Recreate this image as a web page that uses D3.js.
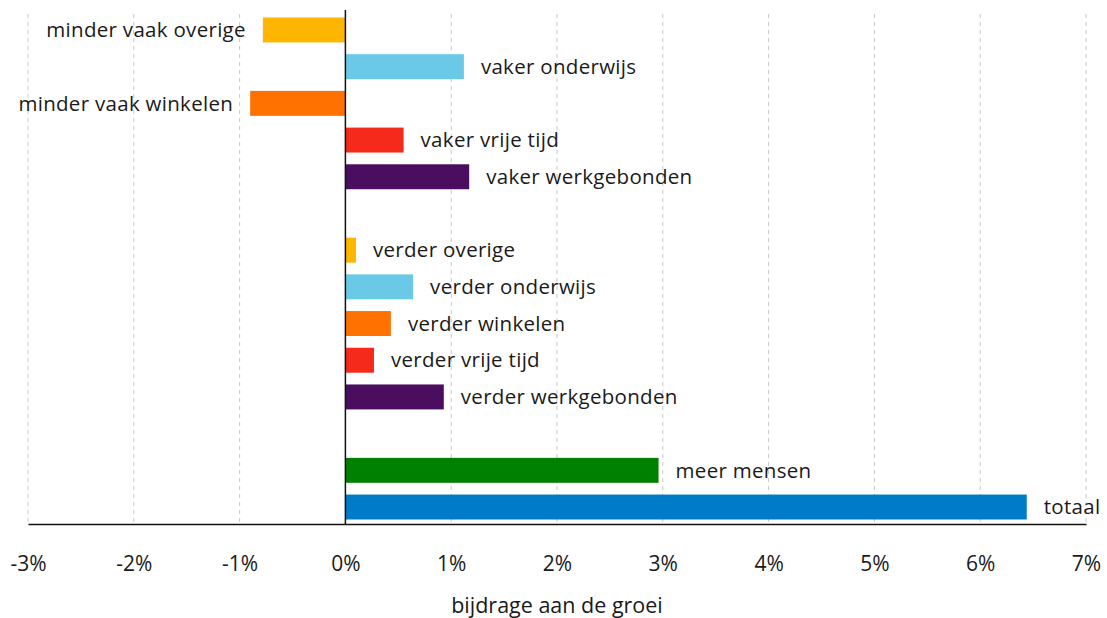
<!DOCTYPE html>
<html lang="nl">
<head>
<meta charset="UTF-8">
<title>bijdrage aan de groei</title>
<style>
    body { margin: 0; background: #fff; }
    text { font-family: "Open Sans", "Noto Sans", sans-serif; fill: #1a1a1a; }
    .grid line { stroke: #c8c8c8; stroke-dasharray: 4, 4; }
</style>
</head>
<body>
<svg width="1107" height="618"></svg>
<script src="https://d3js.org/d3.v7.min.js"></script>
<script>
    // categories in display order, gaps are empty slots
    var categories = ["minder vaak overige", "vaker onderwijs", "minder vaak winkelen", "vaker vrije tijd", "vaker werkgebonden",
        "gap1",
        "verder overige", "verder onderwijs", "verder winkelen", "verder vrije tijd", "verder werkgebonden",
        "gap2",
        "meer mensen", "totaal"];
    var values = [-0.78, 1.12, -0.9, 0.55, 1.17,
        null,
        0.1, 0.64, 0.43, 0.27, 0.93,
        null,
        2.96, 6.44];
    var colors = ["#FFB600", "#6BC9E8", "#FF7200", "#F52A1A", "#4A0D60",
        null,
        "#FFB600", "#6BC9E8", "#FF7200", "#F52A1A", "#4A0D60",
        null,
        "#008000", "#007BC7"];
    var ticks = [-3, -2, -1, 0, 1, 2, 3, 4, 5, 6, 7];

    var svg = d3.select("svg");
    var mLeft = 28, mRight = 1086, mTop = 17.5, mBottom = 524;

    var x = d3.scaleLinear().domain([-3, 7]).range([mLeft, mRight]);
    var y = d3.scaleBand().domain(categories).range([mTop, 519.5]).paddingInner(0.32).paddingOuter(0);

    // dashed gridlines
    svg.append("g").attr("class", "grid")
        .selectAll("line")
        .data(ticks.filter(function (d) { return d !== 0; }))
        .enter().append("line")
        .attr("x1", function (d) { return x(d); })
        .attr("x2", function (d) { return x(d); })
        .attr("y1", 14)
        .attr("y2", mBottom);

    var data = categories.map(function (c, i) {
        return { name: c, value: values[i], color: colors[i] };
    }).filter(function (d) { return d.value !== null; });

    svg.append("g")
        .selectAll("rect")
        .data(data)
        .enter().append("rect")
        .attr("x", function (d) { return x(Math.min(0, d.value)); })
        .attr("width", function (d) { return Math.abs(x(d.value) - x(0)); })
        .attr("y", function (d) { return y(d.name); })
        .attr("height", y.bandwidth())
        .attr("fill", function (d) { return d.color; });

    svg.append("g")
        .selectAll("text")
        .data(data)
        .enter().append("text")
        .attr("x", function (d) { return d.value < 0 ? x(d.value) - 17 : x(d.value) + 17; })
        .attr("y", function (d) { return y(d.name) + y.bandwidth() / 2; })
        .attr("dy", "0.35em")
        .attr("text-anchor", function (d) { return d.value < 0 ? "end" : "start"; })
        .style("font-size", "20.5px")
        .style("letter-spacing", "0.3px")
        .text(function (d) { return d.name; });

    // zero line
    svg.append("line")
        .attr("x1", x(0)).attr("x2", x(0))
        .attr("y1", 10).attr("y2", mBottom)
        .attr("stroke", "#111").attr("stroke-width", 1.5);

    // x axis
    var xAxis = svg.append("g")
        .attr("transform", "translate(0," + mBottom + ")")
        .call(d3.axisBottom(x).tickValues(ticks).tickSize(0).tickPadding(32)
            .tickFormat(function (d) { return d + "%"; }));
    xAxis.select(".domain").attr("stroke", "#111").attr("stroke-width", 1.5);
    xAxis.selectAll("text").style("font-size", "21px").style("font-family", "'Open Sans', sans-serif").attr("fill", "#1a1a1a");

    svg.append("text")
        .attr("x", (mLeft + mRight) / 2)
        .attr("y", 613)
        .attr("text-anchor", "middle")
        .style("font-size", "21.5px")
        .text("bijdrage aan de groei");
</script>
</body>
</html>
